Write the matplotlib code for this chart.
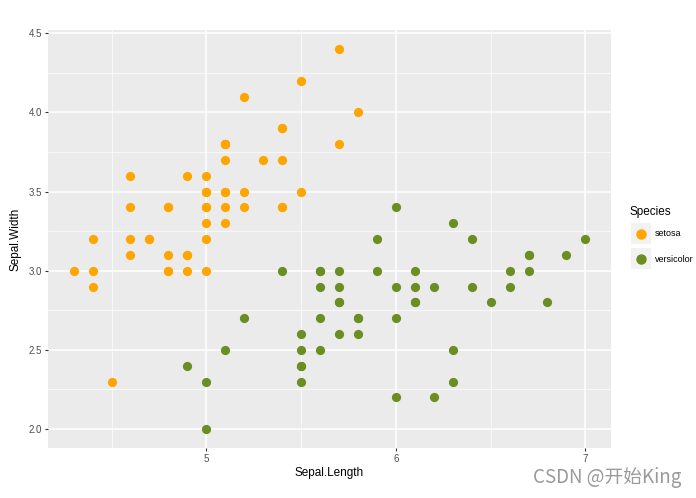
import matplotlib
matplotlib.use("Agg")
import matplotlib.pyplot as plt
from matplotlib.patches import Rectangle
from matplotlib.lines import Line2D

plt.rcParams['font.family'] = ['Liberation Sans', 'DejaVu Sans']

# iris: setosa and versicolor
setosa_length = [5.1, 4.9, 4.7, 4.6, 5.0, 5.4, 4.6, 5.0, 4.4, 4.9, 5.4, 4.8, 4.8, 4.3, 5.8, 5.7, 5.4,
                 5.1, 5.7, 5.1, 5.4, 5.1, 4.6, 5.1, 4.8, 5.0, 5.0, 5.2, 5.2, 4.7, 4.8, 5.4, 5.2, 5.5,
                 4.9, 5.0, 5.5, 4.9, 4.4, 5.1, 5.0, 4.5, 4.4, 5.0, 5.1, 4.8, 5.1, 4.6, 5.3, 5.0]
setosa_width = [3.5, 3.0, 3.2, 3.1, 3.6, 3.9, 3.4, 3.4, 2.9, 3.1, 3.7, 3.4, 3.0, 3.0, 4.0, 4.4, 3.9,
                3.5, 3.8, 3.8, 3.4, 3.7, 3.6, 3.3, 3.4, 3.0, 3.4, 3.5, 3.4, 3.2, 3.1, 3.4, 4.1, 4.2,
                3.1, 3.2, 3.5, 3.6, 3.0, 3.4, 3.5, 2.3, 3.2, 3.5, 3.8, 3.0, 3.8, 3.2, 3.7, 3.3]
versicolor_length = [7.0, 6.4, 6.9, 5.5, 6.5, 5.7, 6.3, 4.9, 6.6, 5.2, 5.0, 5.9, 6.0, 6.1, 5.6, 6.7, 5.6,
                     5.8, 6.2, 5.6, 5.9, 6.1, 6.3, 6.1, 6.4, 6.6, 6.8, 6.7, 6.0, 5.7, 5.5, 5.5, 5.8, 6.0,
                     5.4, 6.0, 6.7, 6.3, 5.6, 5.5, 5.5, 6.1, 5.8, 5.0, 5.6, 5.7, 5.7, 6.2, 5.1, 5.7]
versicolor_width = [3.2, 3.2, 3.1, 2.3, 2.8, 2.8, 3.3, 2.4, 2.9, 2.7, 2.0, 3.0, 2.2, 2.9, 2.9, 3.1, 3.0,
                    2.7, 2.2, 2.5, 3.2, 2.8, 2.5, 2.8, 2.9, 3.0, 2.8, 3.0, 2.9, 2.6, 2.4, 2.4, 2.7, 2.7,
                    3.0, 3.4, 3.1, 2.3, 3.0, 2.5, 2.6, 3.0, 2.6, 2.3, 2.7, 3.0, 2.9, 2.9, 2.5, 2.8]

x_ticks = [5, 6, 7]
x_minor = [4.5, 5.5, 6.5]
y_ticks = [2.0, 2.5, 3.0, 3.5, 4.0, 4.5]
y_minor = [2.25, 2.75, 3.25, 3.75, 4.25]

species = ["setosa", "versicolor"]
colors = ["#FFA500", "#6B8E23"]

W, H = 696, 498
fig = plt.figure(figsize=(W / 100, H / 100), dpi=100)
ax = fig.add_axes([48 / W, 1 - 448 / H, 563 / W, 418 / H])
ax.set_facecolor("#EBEBEB")
for s in ax.spines.values():
    s.set_visible(False)

ax.set_xlim(4.165, 7.135)
ax.set_ylim(1.88, 4.52)
ax.set_xticks(x_ticks)
ax.set_xticklabels([str(t) for t in x_ticks])
ax.set_yticks(y_ticks)
ax.set_yticklabels([f"{t:.1f}" for t in y_ticks])
ax.set_xticks(x_minor, minor=True)
ax.set_yticks(y_minor, minor=True)
ax.grid(True, which="major", color="white", linewidth=1.1)
ax.grid(True, which="minor", color="white", linewidth=0.5)
ax.set_axisbelow(True)
ax.tick_params(which="major", length=2.5, width=0.8, color="#333333", labelsize=7, labelcolor="#4D4D4D", pad=2)
ax.tick_params(which="minor", length=0)

ax.scatter(setosa_length, setosa_width, s=44, color=colors[0], zorder=3, linewidths=0)
ax.scatter(versicolor_length, versicolor_width, s=44, color=colors[1], zorder=3, linewidths=0)

ax.set_xlabel("Sepal.Length", fontsize=8.5, labelpad=2)
ax.set_ylabel("Sepal.Width", fontsize=8.5, labelpad=5)

# legend drawn by hand to match ggplot style
fig.text(629 / W, 1 - 212 / H, "Species", fontsize=8.5, ha="left", va="center")
for i, (name, c) in enumerate(zip(species, colors)):
    top = 223 + i * 25.5
    fig.patches.append(Rectangle((631 / W, 1 - (top + 21) / H), 20 / W, 21 / H,
                                 transform=fig.transFigure, facecolor="#F2F2F2", edgecolor="none"))
    fig.lines.append(Line2D([641 / W], [1 - (top + 10.5) / H], transform=fig.transFigure,
                            marker="o", linestyle="", color=c, markersize=6.5))
    fig.text(655 / W, 1 - (top + 10.5) / H, name, fontsize=6.5, ha="left", va="center")

fig.text(681 / W, 1 - 478 / H, "CSDN @开始King", ha="right", va="center", fontsize=13.5, color="#9A9A9A",
         family=["Noto Sans CJK SC", "DejaVu Sans"])

fig.savefig("out.png", dpi=100)
